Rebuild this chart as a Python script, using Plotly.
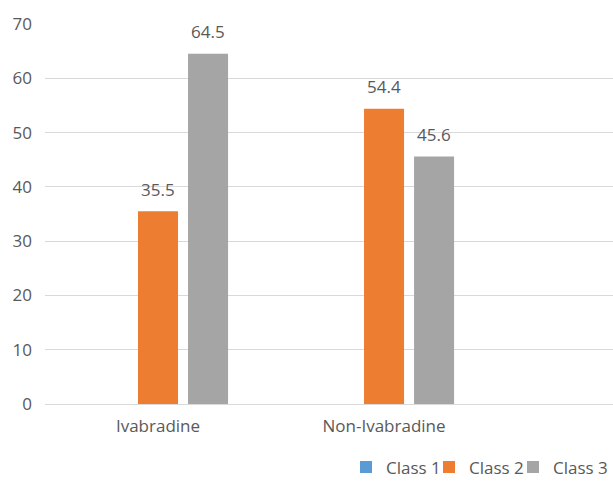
import plotly.graph_objects as go

# Share of patients by class in each treatment group (%)
groups = ["Ivabradine", "Non-Ivabradine"]
class1 = [None, None]
class2 = [35.5, 54.4]
class3 = [64.5, 45.6]
series_names = ["Class 1", "Class 2", "Class 3"]
series_colors = ["#5B9BD5", "#ED7D31", "#A5A5A5"]
y_ticks = [0, 10, 20, 30, 40, 50, 60, 70]

W, H = 613, 486
M_L, M_R, M_T, M_B = 45, 0, 24, 82
X_RANGE = [-0.5, 2.013]
BARGAP = 0.336
TEXT = "#595959"
FONT = "Open Sans"

# each series gets its own legend box so the entries can sit tightly in a row
legend_ids = ["legend", "legend2", "legend3"]
legend_left_px = [346, 429, 513]

fig = go.Figure()
for name, vals, col, lg in zip(series_names, [class1, class2, class3],
                               series_colors, legend_ids):
    fig.add_trace(go.Bar(x=groups, y=vals, name=name, marker_color=col,
                         marker_line_width=0, legend=lg, showlegend=True))

# value labels above each bar, shifted to the bar's slot within the group
plot_w = W - M_L - M_R
px_per_cat = plot_w / (X_RANGE[1] - X_RANGE[0])
slot = px_per_cat * (1 - BARGAP) / len(series_names)
for i, vals in enumerate([class1, class2, class3]):
    offset = (i - (len(series_names) - 1) / 2) * slot
    for g, v in zip(groups, vals):
        if v is None:
            continue
        fig.add_annotation(x=g, y=v, text=f"{v}", showarrow=False,
                           xshift=offset, yshift=22, yanchor="middle",
                           font=dict(family=FONT, size=17, color=TEXT))

legend_style = dict(orientation="h", xanchor="left", y=-0.167, yanchor="middle",
                    font=dict(family=FONT, size=17, color=TEXT),
                    itemclick=False, itemdoubleclick=False,
                    bgcolor="rgba(0,0,0,0)")

fig.update_layout(
    width=W, height=H,
    margin=dict(l=M_L, r=M_R, t=M_T, b=M_B, autoexpand=False),
    paper_bgcolor="white", plot_bgcolor="white",
    barmode="group", bargap=BARGAP, bargroupgap=0.2,
    font=dict(family=FONT, size=17, color=TEXT),
    showlegend=True,
)
for lg, px in zip(legend_ids, legend_left_px):
    fig.update_layout({lg: dict(x=(px - M_L) / plot_w, **legend_style)})

fig.update_xaxes(range=X_RANGE, showgrid=False, showline=False, zeroline=False,
                 ticks="", ticklabelstandoff=10,
                 tickfont=dict(family=FONT, size=17, color=TEXT))
fig.update_yaxes(range=[0, 70], tickvals=y_ticks, showgrid=True,
                 gridcolor="#D9D9D9", gridwidth=1, zeroline=True,
                 zerolinecolor="#D9D9D9", zerolinewidth=1, showline=False,
                 ticks="", ticklabelstandoff=12,
                 tickfont=dict(family=FONT, size=17, color=TEXT))

fig.write_html("out.html")
